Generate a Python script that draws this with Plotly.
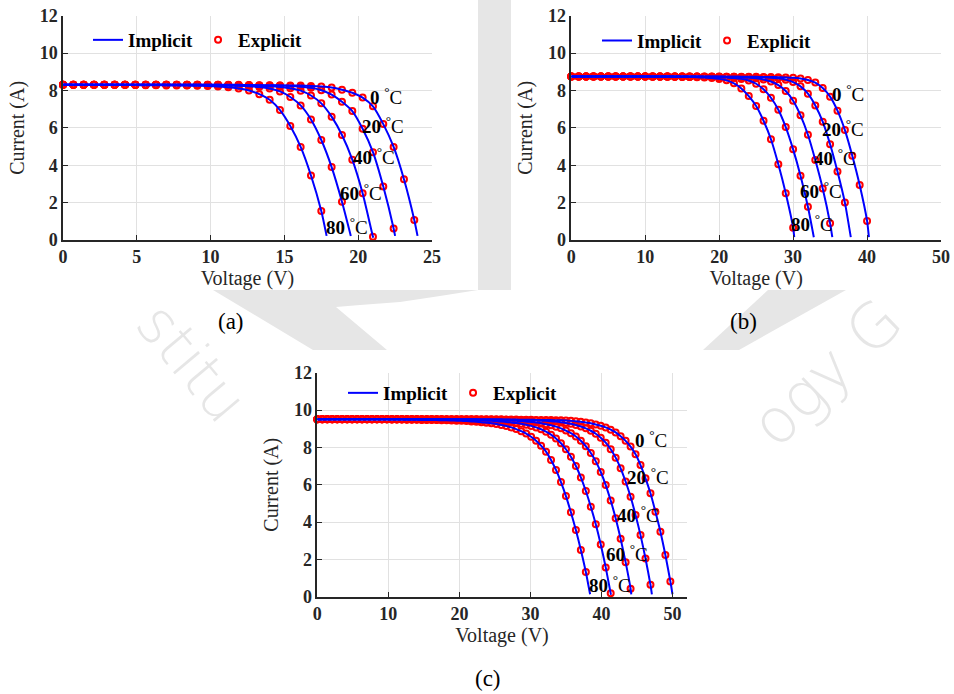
import plotly.graph_objects as go

W, H = 954, 694

TEMPS = ["0", "20", "40", "60", "80"]

# ---------------- panel (a) ----------------
V_A = [0.0, 0.7, 1.4, 2.1, 2.8, 3.5, 4.2, 4.9, 5.6, 6.3, 7.0, 7.7, 8.4, 9.1, 9.8, 10.5, 11.2, 11.9,
       12.6, 13.3, 14.0, 14.7, 15.4, 16.1, 16.8, 17.5, 18.2, 18.9, 19.6, 20.3, 21.0, 21.7, 22.4, 23.1, 23.8]
I_A_0 = [8.3, 8.3, 8.3, 8.3, 8.3, 8.3, 8.3, 8.3, 8.3, 8.3, 8.3, 8.3, 8.3, 8.3, 8.3, 8.3, 8.3, 8.3,
         8.29, 8.28, 8.28, 8.27, 8.27, 8.26, 8.24, 8.21, 8.16, 8.04, 7.88, 7.62, 7.15, 6.2, 4.98, 3.25, 1.07]
I_A_20 = [8.3, 8.3, 8.3, 8.3, 8.3, 8.3, 8.3, 8.3, 8.3, 8.3, 8.3, 8.3, 8.3, 8.3, 8.3, 8.3,
          8.29, 8.28, 8.28, 8.27, 8.27, 8.26, 8.24, 8.2, 8.14, 8.01, 7.78, 7.4, 6.9, 5.95, 4.7, 2.86, 0.62]
I_A_40 = [8.3, 8.3, 8.3, 8.3, 8.3, 8.3, 8.3, 8.3, 8.3, 8.3, 8.3, 8.3, 8.3, 8.3,
          8.29, 8.28, 8.28, 8.27, 8.26, 8.25, 8.23, 8.19, 8.12, 7.99, 7.73, 7.31, 6.6, 5.62, 4.3, 2.5, 0.18]
I_A_60 = [8.3, 8.3, 8.3, 8.3, 8.3, 8.3, 8.3, 8.3, 8.3, 8.3, 8.3,
          8.29, 8.28, 8.28, 8.27, 8.27, 8.26, 8.25, 8.22, 8.18, 8.1, 7.95, 7.65, 7.2, 6.45, 5.35, 3.9, 2.05]
I_A_80 = [8.3, 8.3, 8.3, 8.3, 8.3, 8.3, 8.3,
          8.29, 8.28, 8.28, 8.27, 8.27, 8.26, 8.25, 8.24, 8.21, 8.17, 8.1, 8.0, 7.8, 7.5, 6.95, 6.1, 4.98, 3.45, 1.55]
V_END_A = [24.02, 22.5, 21.03, 19.5, 17.86]
I_END_A = [0.22, 0.22, 0.12, 0.22, 0.22]
LBL_A_X = [21.9, 21.7, 21.1, 20.17, 19.24]
LBL_A_Y = [7.7, 6.16, 4.5, 2.59, 0.75]

# ---------------- panel (b) ----------------
V_B = [0, 1, 2, 3, 4, 5, 6, 7, 8, 9, 10, 11, 12, 13, 14, 15, 16, 17, 18, 19, 20,
       21, 22, 23, 24, 25, 26, 27, 28, 29, 30, 31, 32, 33, 34, 35, 36, 37, 38, 39, 40]
I_B_0 = [8.75, 8.75, 8.75, 8.75, 8.75, 8.75, 8.75, 8.75, 8.75, 8.75, 8.75, 8.75, 8.75, 8.75, 8.75, 8.75,
         8.75, 8.75, 8.75, 8.75, 8.75,
         8.74, 8.74, 8.74, 8.73, 8.73, 8.72, 8.72, 8.71, 8.70, 8.68, 8.64, 8.56, 8.42, 8.13, 7.67, 6.92,
         5.88, 4.51, 2.94, 1.02]
I_B_20 = [8.75, 8.75, 8.75, 8.75, 8.75, 8.75, 8.75, 8.75, 8.75, 8.75, 8.75, 8.75, 8.75, 8.75, 8.75, 8.75,
          8.75, 8.75,
          8.74, 8.74, 8.74, 8.73, 8.73, 8.72, 8.72, 8.71, 8.70, 8.68, 8.65, 8.58, 8.45, 8.22, 7.83, 7.2,
          6.33, 5.12, 3.66, 2.0]
I_B_40 = [8.75, 8.75, 8.75, 8.75, 8.75, 8.75, 8.75, 8.75, 8.75, 8.75, 8.75, 8.75, 8.75, 8.75, 8.75, 8.75,
          8.74, 8.74, 8.73, 8.73, 8.72, 8.72, 8.71, 8.7, 8.68, 8.65, 8.59, 8.48, 8.29, 7.97, 7.45, 6.67,
          5.63, 4.28, 2.76, 0.89]
I_B_60 = [8.75, 8.75, 8.75, 8.75, 8.75, 8.75, 8.75, 8.75, 8.75, 8.75, 8.75, 8.75, 8.75, 8.75,
          8.74, 8.74, 8.73, 8.73, 8.72, 8.72, 8.71, 8.69, 8.67, 8.62, 8.53, 8.36, 8.06, 7.61, 6.97, 6.04,
          4.85, 3.44, 1.78]
I_B_80 = [8.75, 8.75, 8.75, 8.75, 8.75, 8.75, 8.75, 8.75, 8.75, 8.75, 8.75,
          8.74, 8.74, 8.73, 8.73, 8.72, 8.72, 8.71, 8.69, 8.67, 8.62, 8.54, 8.38, 8.11, 7.7, 7.17, 6.38,
          5.39, 4.05, 2.5, 0.66]
V_END_B = [40.25, 37.8, 35.3, 32.8, 30.15]
I_END_B = [0.15, 0.15, 0.15, 0.15, 0.15]
LBL_B_X = [37.4, 36.8, 35.7, 33.8, 32.6]
LBL_B_Y = [7.85, 5.97, 4.42, 2.67, 0.93]

# ---------------- panel (c) ----------------
V_C = [0.0, 0.7, 1.4, 2.1, 2.8, 3.5, 4.2, 4.9, 5.6, 6.3, 7.0, 7.7, 8.4, 9.1, 9.8, 10.5, 11.2, 11.9,
       12.6, 13.3, 14.0, 14.7, 15.4, 16.1, 16.8, 17.5, 18.2, 18.9, 19.6, 20.3, 21.0, 21.7, 22.4, 23.1,
       23.8, 24.5, 25.2, 25.9, 26.6, 27.3, 28.0, 28.7, 29.4, 30.1, 30.8, 31.5, 32.2, 32.9, 33.6, 34.3,
       35.0, 35.7, 36.4, 37.1, 37.8, 38.5, 39.2, 39.9, 40.6, 41.3, 42.0, 42.7, 43.4, 44.1, 44.8, 45.5,
       46.2, 46.9, 47.6, 48.3, 49.0, 49.7]
I_C_0 = [9.5, 9.5, 9.5, 9.5, 9.5, 9.5, 9.5, 9.5, 9.5, 9.5, 9.5, 9.5, 9.5, 9.5, 9.5, 9.5, 9.5, 9.5, 9.5,
         9.5, 9.5, 9.5, 9.5, 9.5, 9.5, 9.5, 9.5, 9.5, 9.5, 9.5, 9.5, 9.5, 9.5, 9.5, 9.5, 9.5, 9.5, 9.5,
         9.49, 9.49, 9.49, 9.48, 9.48, 9.48, 9.47, 9.47, 9.46, 9.46, 9.45, 9.45, 9.44, 9.42, 9.40, 9.37,
         9.33, 9.29, 9.23, 9.16, 9.07, 8.95, 8.8, 8.6, 8.35, 8.04, 7.63, 7.05, 6.34, 5.54, 4.55, 3.48,
         2.23, 0.82]
I_C_20 = [9.5, 9.5, 9.5, 9.5, 9.5, 9.5, 9.5, 9.5, 9.5, 9.5, 9.5, 9.5, 9.5, 9.5, 9.5, 9.5, 9.5, 9.5,
          9.5, 9.5, 9.5, 9.5, 9.5, 9.5, 9.5, 9.5, 9.5, 9.5, 9.5, 9.5, 9.5, 9.5, 9.5,
          9.49, 9.49, 9.49, 9.48, 9.48, 9.48, 9.47, 9.47, 9.46, 9.46, 9.45, 9.44, 9.43, 9.42, 9.40, 9.38,
          9.35, 9.31, 9.26, 9.2, 9.12, 9.02, 8.89, 8.73, 8.52, 8.25, 7.9, 7.45, 6.88, 6.17, 5.35, 4.38,
          3.3, 2.05, 0.64]
I_C_40 = [9.5, 9.5, 9.5, 9.5, 9.5, 9.5, 9.5, 9.5, 9.5, 9.5, 9.5, 9.5, 9.5, 9.5, 9.5, 9.5, 9.5, 9.5,
          9.5, 9.5, 9.5, 9.5, 9.5, 9.5, 9.5, 9.5,
          9.49, 9.49, 9.49, 9.48, 9.48, 9.48, 9.47, 9.47, 9.46, 9.46, 9.45, 9.45, 9.44, 9.43, 9.42, 9.41,
          9.39, 9.36, 9.33, 9.29, 9.24, 9.18, 9.11, 9.02, 8.9, 8.76, 8.58, 8.35, 8.06, 7.7, 7.25, 6.68,
          5.98, 5.15, 4.2, 3.1, 1.85, 0.43]
I_C_60 = [9.5, 9.5, 9.5, 9.5, 9.5, 9.5, 9.5, 9.5, 9.5, 9.5, 9.5, 9.5, 9.5, 9.5, 9.5, 9.5, 9.5, 9.5,
          9.5, 9.5, 9.5,
          9.49, 9.49, 9.49, 9.48, 9.48, 9.48, 9.47, 9.47, 9.46, 9.46, 9.45, 9.45, 9.44, 9.43, 9.42, 9.4,
          9.38, 9.36, 9.33, 9.3, 9.26, 9.21, 9.15, 9.07, 8.97, 8.84, 8.68, 8.48, 8.22, 7.9, 7.5, 7.0,
          6.39, 5.66, 4.82, 3.88, 2.8, 1.57, 0.18]
I_C_80 = [9.5, 9.5, 9.5, 9.5, 9.5, 9.5, 9.5, 9.5, 9.5, 9.5, 9.5, 9.5, 9.5, 9.5, 9.5,
          9.49, 9.49, 9.49, 9.48, 9.48, 9.48, 9.47, 9.47, 9.46, 9.46, 9.45, 9.45, 9.44, 9.43, 9.42, 9.41,
          9.39, 9.37, 9.35, 9.32, 9.29, 9.25, 9.2, 9.14, 9.07, 8.98, 8.87, 8.74, 8.57, 8.36, 8.09, 7.77,
          7.32, 6.79, 6.14, 5.39, 4.52, 3.57, 2.5, 1.32]
V_END_C = [50.0, 47.1, 44.2, 41.35, 38.4]
I_END_C = [0.13, 0.13, 0.13, 0.1, 0.13]
LBL_C_X = [47.0, 46.6, 45.2, 43.6, 41.2]
LBL_C_Y = [8.43, 6.46, 4.41, 2.36, 0.66]

Y_TICKS = [0, 2, 4, 6, 8, 10, 12]
X_TICKS_A = [0, 5, 10, 15, 20, 25]
X_TICKS_BC = [0, 10, 20, 30, 40, 50]

PANEL_LABELS = ["(a)", "(b)", "(c)"]

# ---------------- styling / layout helpers ----------------
SERIF = "Liberation Serif, Tinos, DejaVu Serif, Times New Roman, serif"
BLUE = "#0000ff"
RED = "#ff0000"
DARK = "#262626"


def px(x):
    return x / W


def py(y):
    return 1 - y / H


panels = [
    dict(xa="x", ya="y", lg="legend", V=V_A, I=[I_A_0, I_A_20, I_A_40, I_A_60, I_A_80],
         ve=V_END_A, ie=I_END_A, lx=LBL_A_X, ly=LBL_A_Y),
    dict(xa="x2", ya="y2", lg="legend2", V=V_B, I=[I_B_0, I_B_20, I_B_40, I_B_60, I_B_80],
         ve=V_END_B, ie=I_END_B, lx=LBL_B_X, ly=LBL_B_Y),
    dict(xa="x3", ya="y3", lg="legend3", V=V_C, I=[I_C_0, I_C_20, I_C_40, I_C_60, I_C_80],
         ve=V_END_C, ie=I_END_C, lx=LBL_C_X, ly=LBL_C_Y),
]

fig = go.Figure()
annotations = []

for p in panels:
    # explicit (markers) first, implicit (lines) drawn on top
    for k, (t, cur) in enumerate(zip(TEMPS, p["I"])):
        fig.add_trace(go.Scatter(
            x=p["V"][:len(cur)], y=cur, mode="markers", name="Explicit",
            xaxis=p["xa"], yaxis=p["ya"], legend=p["lg"], legendrank=2,
            showlegend=(k == 0), cliponaxis=False,
            marker=dict(symbol="circle-open", size=6, color=RED, line=dict(width=2, color=RED)),
            hoverinfo="skip"))
    for k, (t, cur) in enumerate(zip(TEMPS, p["I"])):
        xs = [v for v, i in zip(p["V"], cur) if i > p["ie"][k]] + [p["ve"][k]]
        ys = [i for i in cur if i > p["ie"][k]] + [p["ie"][k]]
        fig.add_trace(go.Scatter(
            x=xs, y=ys, mode="lines", name="Implicit",
            xaxis=p["xa"], yaxis=p["ya"], legend=p["lg"], legendrank=1,
            showlegend=(k == 0),
            line=dict(color=BLUE, width=2, shape="spline", smoothing=0.6),
            hoverinfo="skip"))
    for k, t in enumerate(TEMPS):
        annotations.append(dict(
            x=p["lx"][k], y=p["ly"][k], xref=p["xa"], yref=p["ya"],
            text=f"<b>{t}</b> <sup>°</sup>C", showarrow=False,
            xanchor="center", yanchor="middle",
            font=dict(family=SERIF, size=19, color="black")))

axis_common = dict(
    showgrid=True, gridcolor="#e1e1e1", gridwidth=1,
    showline=True, linecolor=DARK, linewidth=1.5,
    ticks="inside", ticklen=5, tickwidth=1, tickcolor=DARK,
    tickfont=dict(family=SERIF, size=18, color=DARK, weight="bold"),
    zeroline=False, automargin=False, fixedrange=True,
)
title_font = dict(family=SERIF, size=20, color=DARK)


def xax(domain, rng, tickvals, anchor):
    return dict(axis_common, domain=domain, range=rng, tickvals=tickvals,
                ticktext=[f"<b>{v}</b>" for v in tickvals], anchor=anchor,
                title=dict(text="Voltage (V)", font=title_font, standoff=2))


def yax(domain, anchor):
    return dict(axis_common, domain=domain, range=[0, 12], tickvals=Y_TICKS,
                ticktext=[f"<b>{v}</b>" for v in Y_TICKS],
                anchor=anchor, title=dict(text="Current (A)", font=title_font, standoff=10))


YDOM_TOP = [py(240), py(15.7)]
YDOM_BOT = [py(596.7), py(372.7)]

legend_common = dict(orientation="h", xanchor="left", yanchor="middle",
                     bgcolor="rgba(0,0,0,0)", borderwidth=0, itemwidth=30,
                     font=dict(family=SERIF, size=19, color="black", weight="bold"))

# panel captions
for lab, (cx, cy) in zip(PANEL_LABELS, [(231, 322), (743, 322), (488, 678)]):
    annotations.append(dict(x=px(cx), y=py(cy), xref="paper", yref="paper", text=lab,
                            showarrow=False, xanchor="center", yanchor="middle",
                            font=dict(family=SERIF, size=23, color="black")))

# faint background watermark (page behind the pasted sub-figures)
WM = "#e6e6e6"
annotations.append(dict(x=px(192), y=py(362), xref="paper", yref="paper", text="stitu",
                        showarrow=False, textangle=50, xanchor="center", yanchor="middle",
                        font=dict(family="DejaVu Sans", size=60, color=WM, weight=200)))
annotations.append(dict(x=px(826), y=py(372), xref="paper", yref="paper", text="ogy G",
                        showarrow=False, textangle=-44, xanchor="center", yanchor="middle",
                        font=dict(family="DejaVu Sans", size=62, color=WM, weight=200)))


def poly(pts):
    return "M " + " L ".join(f"{px(a):.5f},{py(b):.5f}" for a, b in pts) + " Z"


shapes = [
    dict(type="rect", xref="paper", yref="paper", x0=px(478), x1=px(511), y0=py(290), y1=py(0),
         fillcolor=WM, line=dict(width=0), layer="below"),
    dict(type="path", xref="paper", yref="paper", layer="below", fillcolor=WM, line=dict(width=0),
         path=poly([(213, 290), (478, 290), (440, 296), (400, 302), (360, 305), (336, 307),
                    (387, 350), (313, 350)])),
    dict(type="path", xref="paper", yref="paper", layer="below", fillcolor=WM, line=dict(width=0),
         path=poly([(768, 290), (846, 290), (739, 350), (703, 350)])),
]

fig.update_layout(
    width=W, height=H, margin=dict(l=0, r=0, t=0, b=0),
    paper_bgcolor="white", plot_bgcolor="white",
    xaxis=xax([px(63), px(432)], [0, 25], X_TICKS_A, "y"),
    yaxis=yax(YDOM_TOP, "x"),
    xaxis2=xax([px(571.3), px(941)], [0, 50], X_TICKS_BC, "y2"),
    yaxis2=yax(YDOM_TOP, "x2"),
    xaxis3=xax([px(317.3), px(686.7)], [0, 52], X_TICKS_BC, "y3"),
    yaxis3=yax(YDOM_BOT, "x3"),
    legend=dict(legend_common, x=px(88), y=py(40)),
    legend2=dict(legend_common, x=px(597), y=py(40.7)),
    legend3=dict(legend_common, x=px(343), y=py(393)),
    annotations=annotations,
    shapes=shapes,
    showlegend=True,
)

fig.write_html("out.html")
